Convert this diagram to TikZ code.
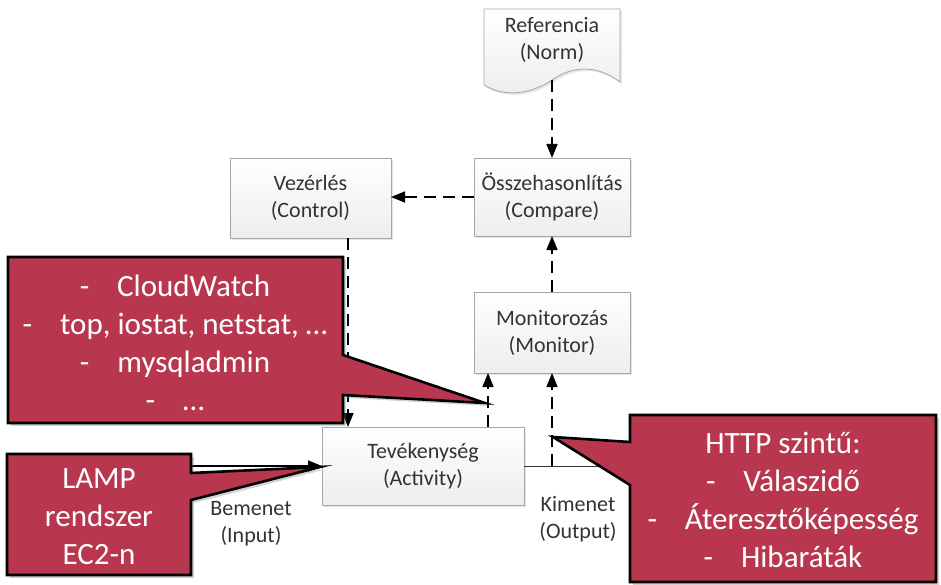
\documentclass[tikz,border=0pt]{standalone}
\usepackage{fontspec}
\setmainfont{Carlito}
\usetikzlibrary{arrows.meta,shadows,calc}
\definecolor{callred}{HTML}{B8374F}
\definecolor{boxline}{HTML}{A6A6A6}
\definecolor{boxtext}{HTML}{333333}
\begin{document}
\begin{tikzpicture}[x=1pt,y=-1pt,
  procbox/.style={draw=boxline, line width=0.8pt, top color=white, bottom color=black!7,
    minimum width=#1, minimum height=78pt, inner sep=2pt, outer sep=0pt, anchor=north west,
    align=center, text=boxtext, font=\fontsize{22}{27}\selectfont,
    drop shadow={shadow xshift=2pt, shadow yshift=-2pt, opacity=0.2}},
  plainlabel/.style={align=center, text=boxtext, font=\fontsize{22}{27}\selectfont},
  dashconn/.style={draw=black, line width=1.6pt, dash pattern=on 12pt off 7pt,
    -{Triangle[length=14pt,width=11pt]}},
  solidconn/.style={draw=black!80, line width=1pt},
  callout/.style={draw=black, line width=2.6pt, fill=callred, line join=miter,
    drop shadow={shadow xshift=3pt, shadow yshift=-3pt, opacity=0.35}},
  callouttext/.style={align=center, text=white, font=\fontsize{31}{38}\selectfont},
]
\useasboundingbox (0,0) rectangle (941,585);

% reference document with wavy bottom
\draw[draw=boxline, line width=0.8pt, top color=white, bottom color=black!7,
      drop shadow={shadow xshift=2pt, shadow yshift=-2pt, opacity=0.2}]
  (484,9) -- (620,9) -- (620,82)
  .. controls (596,64) and (572,66) .. (552,80)
  .. controls (530,95) and (503,97) .. (484,85) -- cycle;
\node[plainlabel] (ref) at (552,40) {Referencia\\(Norm)};
\coordinate (refb) at (552,80);

% process boxes
\node[procbox=161pt, minimum height=80pt] (ctl) at (230,158) {Vezérlés\\(Control)};
\node[procbox=156pt] (cmp) at (474,158) {Összehasonlítás\\(Compare)};
\node[procbox=156pt, minimum height=81pt] (mon) at (474,292) {Monitorozás\\(Monitor)};
\node[procbox=202pt] (act) at (322,427) {Tevékenység\\(Activity)};

% input / output labels
\node[plainlabel] (inlbl) at (251,524) {Bemenet\\(Input)};
\node[plainlabel] (outlbl) at (578,519) {Kimenet\\(Output)};

% helper columns and free line ends
\coordinate (colctl) at (348,0);
\coordinate (colact) at (488,0);
\coordinate (inend) at (150,466);
\coordinate (outend) at (660,466);
\coordinate (outtap) at (mon.south |- act.east);

% connectors
\draw[dashconn] (refb) -- (cmp.north);
\draw[dashconn] (cmp.west) -- (ctl.east |- cmp.west);
\draw[dashconn] (mon.north) -- (cmp.south);
\draw[dashconn] (ctl.south -| colctl) -- (act.north -| colctl);
\draw[dashconn] (act.north -| colact) -- (mon.south -| colact);
\draw[solidconn] (act.east) -- (outend);
\draw[dashconn] (outtap) -- (mon.south);
\draw[draw=black, line width=1.6pt, -{Triangle[length=14pt,width=11pt]}] (inend) -- (act.west);

% callouts
\draw[callout] (8,257) -- (343,257) -- (343,355) -- (485,403) -- (343,395)
  -- (343,423) -- (8,423) -- cycle;
\node[callouttext] (tools) at (175,343)
  {-\hspace{0.9em}CloudWatch\\-\hspace{0.9em}top, iostat, netstat, …\\-\hspace{0.9em}mysqladmin\\-\hspace{0.9em}…};

\draw[callout] (7,454) -- (191,454) -- (191,473) -- (320,467) -- (191,500)
  -- (191,575) -- (7,575) -- cycle;
\node[callouttext] (lamp) at (99,517) {LAMP\\rendszer\\EC2-n};

\draw[callout] (630,415) -- (936,415) -- (936,582) -- (630,582) -- (630,485)
  -- (553,437) -- (630,442) -- cycle;
\node[callouttext] (http) at (783,500)
  {HTTP szintű:\\-\hspace{0.9em}Válaszidő\\-\hspace{0.9em}Áteresztőképesség\\-\hspace{0.9em}Hibaráták};
\end{tikzpicture}
\end{document}
